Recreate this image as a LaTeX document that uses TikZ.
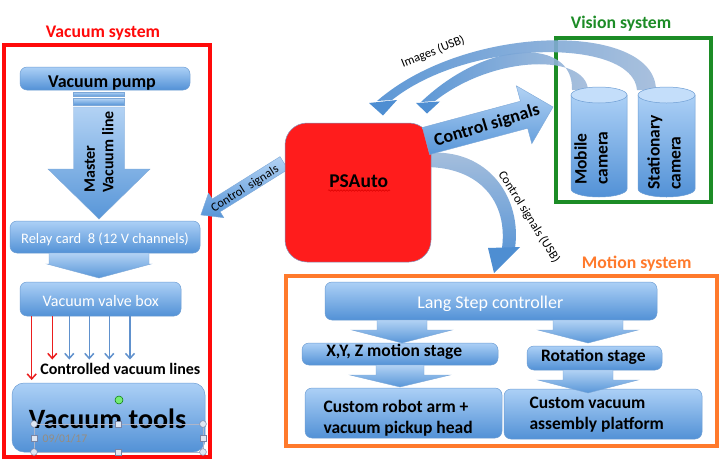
\documentclass[tikz,border=0pt]{standalone}
\usepackage{fontspec}
\setmainfont{Carlito}
\usetikzlibrary{arrows.meta,calc,decorations.pathmorphing}
\definecolor{boxtop}{RGB}{172,208,246}
\definecolor{boxbot}{RGB}{82,145,214}
\definecolor{boxedge}{RGB}{110,158,212}
\definecolor{arrtop}{RGB}{178,210,244}
\definecolor{arrbot}{RGB}{88,150,216}
\definecolor{arredge}{RGB}{125,168,216}
\definecolor{vacred}{RGB}{255,10,10}
\definecolor{psred}{RGB}{255,28,28}
\definecolor{psedge}{RGB}{130,150,190}
\definecolor{visgreen}{RGB}{28,140,38}
\definecolor{motorange}{RGB}{255,122,44}
\definecolor{imgdark}{RGB}{78,142,210}
\definecolor{imglight}{RGB}{160,186,218}
\definecolor{lineblue}{RGB}{96,145,205}
\definecolor{linered}{RGB}{235,30,30}
\definecolor{cyltop}{RGB}{196,222,250}
\definecolor{datecol}{RGB}{150,140,128}
\definecolor{handlefill}{RGB}{222,230,242}
\definecolor{handleedge}{RGB}{120,132,165}
\newcommand{\setfs}[1]{\fontsize{#1}{#1}\selectfont}
\newcommand{\vblock}[5]{%
  \path[fatarrow] let \p1=#1, \p2=#2 in
    (\x2-#3pt,\y1) -- (\x2+#3pt,\y1) -- (\x2+#3pt,\y2+#5pt) -- (\x2+#4pt,\y2+#5pt)
    -- (\x2,\y2) -- (\x2-#4pt,\y2+#5pt) -- (\x2-#3pt,\y2+#5pt) -- cycle;}
\tikzset{
  box/.style={draw=boxedge, line width=0.5pt, rounded corners=7pt, top color=boxtop, bottom color=boxbot, inner sep=0pt, outer sep=0pt},
  fatarrow/.style={draw=arredge, line width=0.4pt, top color=arrtop, bottom color=arrbot},
  frame/.style={line width=4pt},
  systitle/.style={anchor=base, inner sep=0pt, font=\bfseries\setfs{17.7}},
  lbl/.style={anchor=base, inner sep=0pt, text=black, font=\bfseries\setfs{17.5}},
  wlbl/.style={anchor=base, inner sep=0pt, text=white, font=\setfs{16}},
  twolines/.style={anchor=base west, align=left, inner sep=0pt, text=black, font=\bfseries\fontsize{17.5}{21.3}\selectfont},
  vline/.style={line width=1.5pt, -{Straight Barb[length=5pt,width=9pt]}},
  band/.style={left color=imgdark, right color=imglight, opacity=0.9},
  bandhead/.style={fill=imgdark},
  cylbody/.style={draw=boxedge, line width=0.5pt, top color=boxtop, bottom color=boxbot},
  cylcap/.style={draw=boxedge, line width=0.5pt, fill=cyltop},
  camtext/.style={rotate=90, anchor=west, align=left, inner sep=0pt, font=\bfseries\fontsize{17.5}{21}\selectfont},
  handle/.style={fill=handlefill, draw=handleedge, line width=0.5pt},
  smalltext/.style={inner sep=0pt, font=\setfs{12.5}}
}
\begin{document}
\begin{tikzpicture}[x=1pt,y=-1pt]
\useasboundingbox (0,0) rectangle (719,464);
\fill[white] (0,0) rectangle (719,464);

% ---------- frames and titles
\draw[frame, draw=vacred] (4,45) rectangle (210,457);
\draw[frame, draw=visgreen] (555.5,37.5) rectangle (710.5,201.5);
\draw[frame, draw=motorange] (285.5,275.5) rectangle (717,445.5);
\node[systitle, text=vacred] (vactitle) at (103,37) {Vacuum system};
\node[systitle, text=visgreen] (vistitle) at (621,28) {Vision system};
\node[systitle, text=motorange] (mottitle) at (636.7,268) {Motion system};

% ---------- vacuum system
\node[box, minimum width=170pt, minimum height=23pt] (pump) at (105,78.5) {};
\node[lbl, font=\bfseries\setfs{18}] (pumpt) at (102,87) {Vacuum pump};
\node[box, minimum width=190pt, minimum height=32pt] (relay) at (105,237) {};
\node[wlbl, font=\setfs{14.5}] (relayt) at (105,243) {Relay card~ 8 (12 V channels)};
\node[box, minimum width=161pt, minimum height=34pt] (valve) at (100.5,299) {};
\node[wlbl] (valvet) at (100.8,306) {Vacuum valve box};
\node[box, rounded corners=12pt, minimum width=193pt, minimum height=69pt] (tools) at (108.5,417.5) {};

% master vacuum line
\path[fatarrow] (73.5,92) rectangle (124.5,96.5);
\path[fatarrow] (73.5,98.5) rectangle (124.5,105);
\vblock{([yshift=-17pt]pump.south)}{([xshift=-6pt,yshift=2pt]relay.north)}{25.5}{51}{50}
\node[camtext, font=\bfseries\fontsize{16}{18.7}\selectfont] (mastert) at (99,193) {Master\\Vacuum line};
% relay -> valve box
\vblock{(relay.south)}{([xshift=-1.5pt,yshift=4pt]valve.north)}{50}{52}{14}

% controlled vacuum lines
\coordinate (l1) at (31.7,0);
\coordinate (l2) at (52.3,0);
\coordinate (l3) at (69.3,0);
\coordinate (l4) at (89.3,0);
\coordinate (l5) at (109.3,0);
\coordinate (l6) at (130,0);
\draw[vline, draw=linered] (valve.south -| l1) -- ($(tools.north -| l1)+(0,-3)$);
\draw[vline, draw=linered] (valve.south -| l2) -- ++(0,43.5);
\foreach \c in {l3,l4,l5,l6}{
  \draw[vline, draw=lineblue] (valve.south -| \c) -- ++(0,43.5);
}
\node[lbl, font=\bfseries\setfs{16}] (ctrlines) at (120.3,374.3) {Controlled vacuum lines};

% vacuum tools with selection handles
\node[lbl, font=\bfseries\setfs{28}] (toolst) at (107.5,428) {Vacuum tools};
\draw[handleedge!60, line width=0.4pt] (34,424) rectangle (203,452);
\node[anchor=base west, inner sep=0pt, text=datecol, font=\setfs{11.7}] (datet) at (42.5,442.7) {09/01/17};
\foreach \p in {(34,424),(203,424),(34,452),(203,452)}{
  \path[handle] \p circle[radius=3.4pt];
}
\foreach \p in {(118.5,424),(34,438),(203,438),(118.5,452)}{
  \path[handle] \p ++(-3,-3) rectangle ++(6,6);
}
\draw[green!45!black, fill=green!55!white!85!gray, line width=0.5pt] (119,400) circle[radius=4pt];

% ---------- curved arrows (behind other shapes)
% Images (USB) outer band: stationary camera -> PSAuto
\path[band] (656,90) .. controls (655,22) and (468,22) .. (377,101)
  -- (392,100) .. controls (470,38) and (633,38) .. (637,90) -- cycle;
\path[bandhead] (369,103) -- (397,100) -- (383,115.5) -- cycle;
% Images (USB) inner band: mobile camera -> PSAuto
\path[band] (572,90) .. controls (574,38) and (488,38) .. (421,102)
  -- (435,101) .. controls (495,54) and (586,54) .. (588,90) -- cycle;
\path[bandhead] (416,103) -- (440,101.5) -- (427,113.5) -- cycle;
\node[smalltext, rotate=21.7] (imgt) at (433,52) {Images (USB)};

% Control signals (USB): PSAuto -> motion system
\path[top color=imglight, bottom color=imgdark, opacity=0.9]
  (425,153) .. controls (490,147) and (522,200) .. (515,248)
  -- (502,248) .. controls (508,202) and (480,167) .. (425,167) -- cycle;
\path[bandhead] (488,248) -- (520,247) -- (494,273) -- cycle;
\node[smalltext, rotate=-58] (usbt) at (529,217) {Control signals (USB)};

% small control arrow PSAuto -> relay card
\begin{scope}[shift={(284,163)}, rotate=212]
  \path[fatarrow] (0,-7.5) -- (80,-7.5) -- (80,-14.5) -- (98,0) -- (80,14.5) -- (80,7.5) -- (0,7.5) -- cycle;
\end{scope}
\node[smalltext, rotate=32] (ctrlt) at (245,189) {Control~ signals};

% ---------- PSAuto
\node[draw=psedge, line width=0.5pt, fill=psred, rounded corners=22pt, minimum width=146pt, minimum height=139pt, inner sep=0pt] (ps) at (358,192.5) {};
\node[lbl, font=\bfseries\setfs{19.5}] (pst) at (358.7,187) {PSAuto};
\draw[red!85!black, line width=0.5pt, decorate, decoration={snake, amplitude=0.8pt, segment length=3pt}] (328,190.5) -- (390,190.5);

% big control arrow PSAuto -> vision system
\begin{scope}[shift={(426,141)}, rotate=15]
  \path[fatarrow] (0,-14) -- (101.5,-14) -- (101.5,-30) -- (131.5,0) -- (101.5,30) -- (101.5,14) -- (0,14) -- cycle;
\end{scope}
\node[inner sep=0pt, rotate=17, font=\bfseries\setfs{18}] (bigctrlt) at (487,126) {Control signals};

% ---------- cameras
\path[cylbody] (571,95) -- (571,189) arc[start angle=180, end angle=360, x radius=28pt, y radius=8pt] -- (627,95) -- cycle;
\path[cylcap] (599,95) ellipse[x radius=28pt, y radius=8pt];
\path[cylbody] (638,95) -- (638,189) arc[start angle=180, end angle=360, x radius=28.5pt, y radius=8pt] -- (695,95) -- cycle;
\path[cylcap] (666.5,95) ellipse[x radius=28.5pt, y radius=8pt];
\node[camtext] (mobcam) at (591,185) {Mobile\\camera};
\node[camtext] (statcam) at (664,190) {Stationary\\camera};

% ---------- motion system
\node[box, minimum width=332pt, minimum height=38pt] (lang) at (491,301) {};
\node[wlbl, font=\setfs{18}] (langt) at (490.3,308) {Lang Step controller};
\node[box, minimum width=196pt, minimum height=22pt] (xyz) at (400,354) {};
\node[lbl] (xyzt) at (394.2,356.7) {X,Y, Z motion stage};
\node[box, minimum width=197pt, minimum height=50pt] (robot) at (403.5,413) {};
\node[twolines] (robott) at (323.3,433.5) {Custom robot arm +\\vacuum pickup head};
\node[box, minimum width=135pt, minimum height=24pt] (rot) at (594.5,358) {};
\node[lbl] (rott) at (593.3,361.7) {Rotation stage};
\node[box, minimum width=198pt, minimum height=50pt] (plat) at (603,414) {};
\node[twolines, font=\bfseries\fontsize{17.5}{20.7}\selectfont] (platt) at (529.3,429.5) {Custom vacuum\\assembly platform};

\vblock{(lang.south)}{([xshift=2pt]xyz.north)}{25}{50}{13}
\vblock{(xyz.south)}{([xshift=-3.5pt,yshift=1pt]robot.north)}{24}{50}{12}
\vblock{(lang.south)}{([xshift=-6.5pt,yshift=3pt]rot.north)}{35}{50}{13}
\vblock{(rot.south)}{([xshift=-15pt,yshift=-4pt]plat.north)}{25}{50}{13}
\end{tikzpicture}
\end{document}
